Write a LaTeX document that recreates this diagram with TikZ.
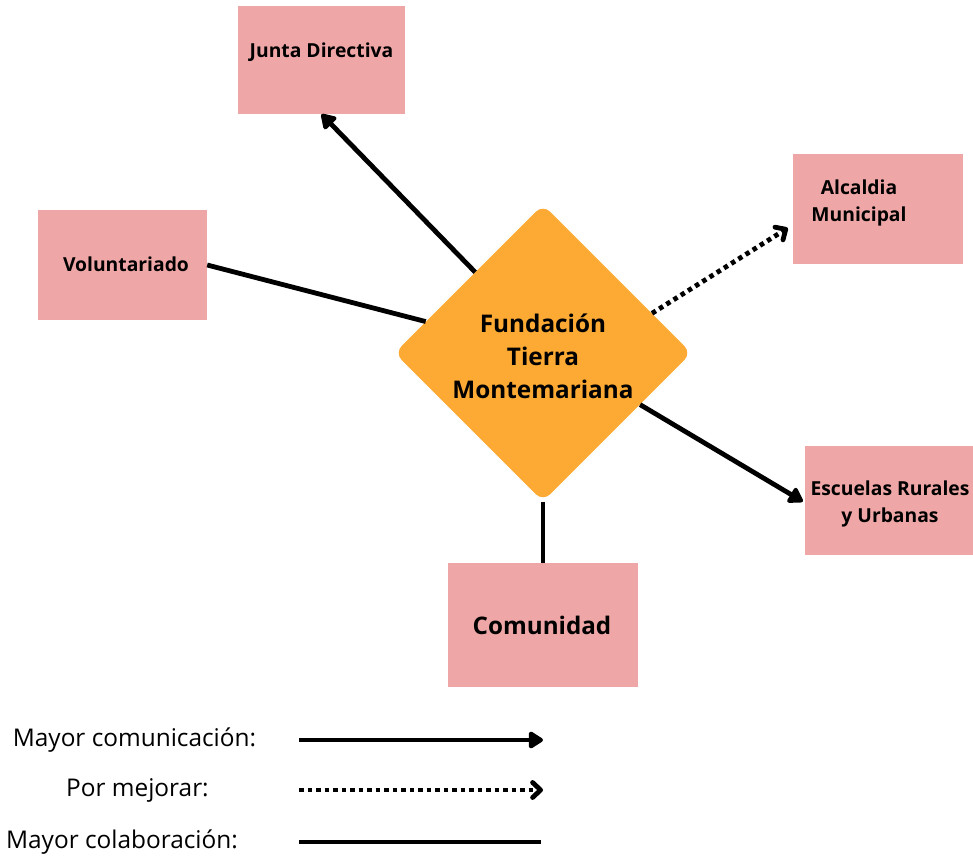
\documentclass[tikz,border=0pt]{standalone}
\usepackage{fontspec}
\setmainfont{Open Sans}
\usetikzlibrary{shapes.geometric,arrows.meta}
\definecolor{boxpink}{HTML}{EFA6A6}
\definecolor{diaorange}{HTML}{FCAA33}
\tikzset{
  pinkbox/.style={fill=boxpink,draw=none,inner sep=0pt},
  smalltext/.style={font=\fontsize{19.3}{27}\selectfont\bfseries,align=center,inner sep=0pt},
  bigtext/.style={font=\fontsize{24.2}{31}\selectfont\bfseries,align=center,inner sep=0pt},
  diatext/.style={font=\fontsize{24.3}{33}\selectfont\bfseries,align=center,inner sep=0pt},
  legtext/.style={font=\fontsize{24.4}{30}\selectfont,inner sep=0pt},
  conn/.style={line width=4.8pt,black},
  commarrow/.style={conn,-{Triangle[length=16pt,width=19pt,round]}},
  improvearrow/.style={conn,dash pattern=on 4.5pt off 4pt,-{Straight Barb[length=8pt,width=15pt,line join=round,line cap=round]}},
  collab/.style={conn},
}
\begin{document}
\begin{tikzpicture}[x=1pt,y=-1pt]
\useasboundingbox (0,0) rectangle (973,856);
% boxes
\node[pinkbox,minimum width=167pt,minimum height=108pt] (j) at (321.5,60) {};
\node[pinkbox,minimum width=169pt,minimum height=110pt] (v) at (122.5,265) {};
\node[pinkbox,minimum width=170pt,minimum height=110pt] (a) at (878,209) {};
\node[pinkbox,minimum width=168pt,minimum height=109pt] (e) at (889,500.5) {};
\node[pinkbox,minimum width=190pt,minimum height=124pt] (c) at (542.5,625) {};
% diamond
\node[diamond,fill=diaorange,draw=none,minimum width=297pt,minimum height=297pt,inner sep=0pt,rounded corners=10pt] (d) at (543,353) {};
% labels
\node[smalltext] (jt) at (321.5,52) {Junta Directiva};
\node[smalltext] (vt) at (126,264) {Voluntariado};
\node[smalltext] (at) at (859,202.5) {Alcaldia\\Municipal};
\node[smalltext] (et) at (890,503.5) {Escuelas Rurales\\y Urbanas};
\node[bigtext] (ct) at (542,625) {Comunidad};
\node[diatext] (dt) at (543,356) {Fundación\\Tierra\\Montemariana};
% connectors
\draw[commarrow] (d.130) -- (j.south);
\draw[collab] (v.east) -- (d.165);
\draw[improvearrow] (d.20) -- ([xshift=-5pt,yshift=-19pt]a.west);
\draw[commarrow] (d.-28) -- ([xshift=-2pt,yshift=-1pt]e.west);
\draw[collab] (d.south) -- (d.south |- c.north);
% legend
\node[legtext] (l1t) at (134.5,740) {Mayor comunicación:};
\node[legtext] (l2t) at (137.5,790) {Por mejorar:};
\node[legtext] (l3t) at (122,842) {Mayor colaboración:};
\coordinate (l1a) at (299,740);
\coordinate (l1b) at (543,740);
\coordinate (l2a) at (299,790);
\coordinate (l2b) at (543,790);
\coordinate (l3a) at (299,842);
\coordinate (l3b) at (541,842);
\draw[commarrow] (l1a) -- (l1b);
\draw[improvearrow] (l2a) -- (l2b);
\draw[collab] (l3a) -- (l3b);
\end{tikzpicture}
\end{document}
